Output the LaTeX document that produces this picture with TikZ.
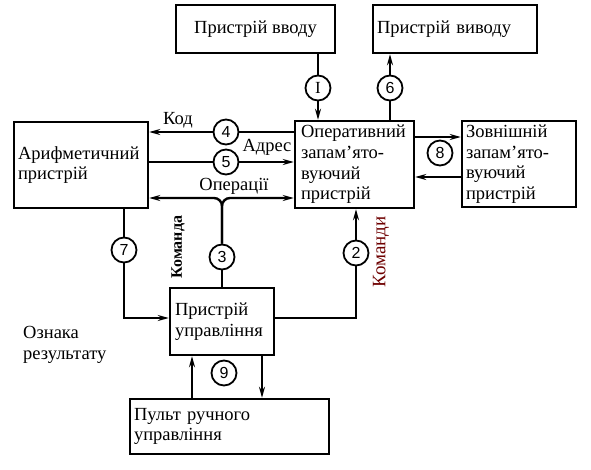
\documentclass[tikz,border=0pt]{standalone}
\usepackage{fontspec}
\setmainfont{Liberation Serif}
\newfontfamily\numfont{Liberation Sans}
\usetikzlibrary{arrows.meta}
\begin{document}
\begin{tikzpicture}[x=1pt,y=-1pt,
  line width=2.4pt,
  box/.style={draw, rectangle, inner xsep=4pt, inner ysep=1pt, align=left,
    font=\fontsize{18.5}{20.6}\selectfont},
  num/.style={draw, circle, line width=1.8pt, minimum size=25pt, inner sep=0pt,
    fill=white, font=\numfont\fontsize{16}{16}\selectfont},
  lbl/.style={inner sep=0pt, font=\fontsize{18.5}{20.6}\selectfont},
  arr/.style={-{Stealth[length=11pt,width=6pt]}}
]
\useasboundingbox (0,0) rectangle (591,469);
% boxes
\node[box, minimum width=159pt, minimum height=48pt, align=center] (in) at (255.5,29) {Пристрій вводу};
\node[box, minimum width=164pt, minimum height=48pt, text width=156pt] (out) at (455,29) {Пристрій виводу};
\node[box, minimum width=134pt, minimum height=86pt, text width=126pt] (alu) at (81,165) {Арифметичний\\пристрій};
\node[box, minimum width=119pt, minimum height=87pt, text width=107pt, inner xsep=6pt] (mem) at (354.5,164.5) {Оперативний\\запам’ято-\\вуючий\\пристрій};
\node[box, minimum width=114pt, minimum height=86pt, text width=106pt, inner ysep=0pt] (ext) at (519,164) {Зовнішній\\запам’ято-\\вуючий\\пристрій};
\node[box, minimum width=104pt, minimum height=67pt, text width=94pt, inner xsep=5pt] (cu) at (222,321.5) {Пристрій\\управління};
\node[box, minimum width=199pt, minimum height=55pt, text width=191pt] (pult) at (229.5,426.5) {Пульт ручного\\управління};
% circles
\node[num, font=\fontsize{17}{17}\selectfont] (c1) at (318,88) {I};
\node[num] (c6) at (390,88) {6};
\node[num] (c4) at (226,132) {4};
\node[num] (c5) at (226,162) {5};
\node[num] (c3) at (222,257) {3};
\node[num] (c2) at (356,253) {2};
\node[num] (c7) at (124,250) {7};
\node[num] (c8) at (440,153) {8};
\node[num] (c9) at (224,373) {9};
\coordinate (op) at (222,198);
\coordinate (y4) at (0,132);
\coordinate (y5) at (0,162);
\coordinate (y8a) at (0,137);
\coordinate (y8b) at (0,177);
\coordinate (x9a) at (192,0);
\coordinate (x9b) at (262,0);
\coordinate (y27) at (0,318);
% connectors
\draw (in.south -| c1) -- (c1);
\draw[arr] (c1) -- (c1 |- mem.north);
\draw (mem.north -| c6) -- (c6);
\draw[arr] (c6) -- (c6 |- out.south);
\draw (mem.west |- y4) -- (c4);
\draw[arr] (c4) -- (alu.east |- y4);
\draw (alu.east |- y5) -- (c5);
\draw[arr] (c5) -- (mem.west |- y5);
\draw (cu.north -| c3) -- (c3);
\draw[arr, rounded corners=8pt] (c3) -- (op) -- (alu.east |- op);
\draw[arr, rounded corners=8pt] (c3) -- (op) -- (mem.west |- op);
\draw (cu.east |- y27) -| (c2);
\draw[arr] (c2) -- (c2 |- mem.south);
\draw (alu.south -| c7) -- (c7);
\draw[arr] (c7) |- (cu.west |- y27);
\draw[arr] (mem.east |- y8a) -- (ext.west |- y8a);
\draw[arr] (ext.west |- y8b) -- (mem.east |- y8b);
\draw[arr] (pult.north -| x9a) -- (cu.south -| x9a);
\draw[arr] (cu.south -| x9b) -- (pult.north -| x9b);
% labels
\node[lbl] (lkod) at (178,120) {Код};
\node[lbl] (ladr) at (267,147) {Адрес};
\node[lbl] (lop) at (234,186) {Операції};
\node[lbl, anchor=north west, align=left] (lozn) at (22,325) {Ознака\\результату};
\node[lbl, rotate=90, font=\bfseries\fontsize{16}{16}\selectfont] (lkda) at (178,247) {Команда};
\node[lbl, rotate=90, font=\fontsize{19}{19}\selectfont, text={rgb,255:red,110;green,0;blue,0}] (lkdi) at (381,252) {Команди};
\end{tikzpicture}
\end{document}
